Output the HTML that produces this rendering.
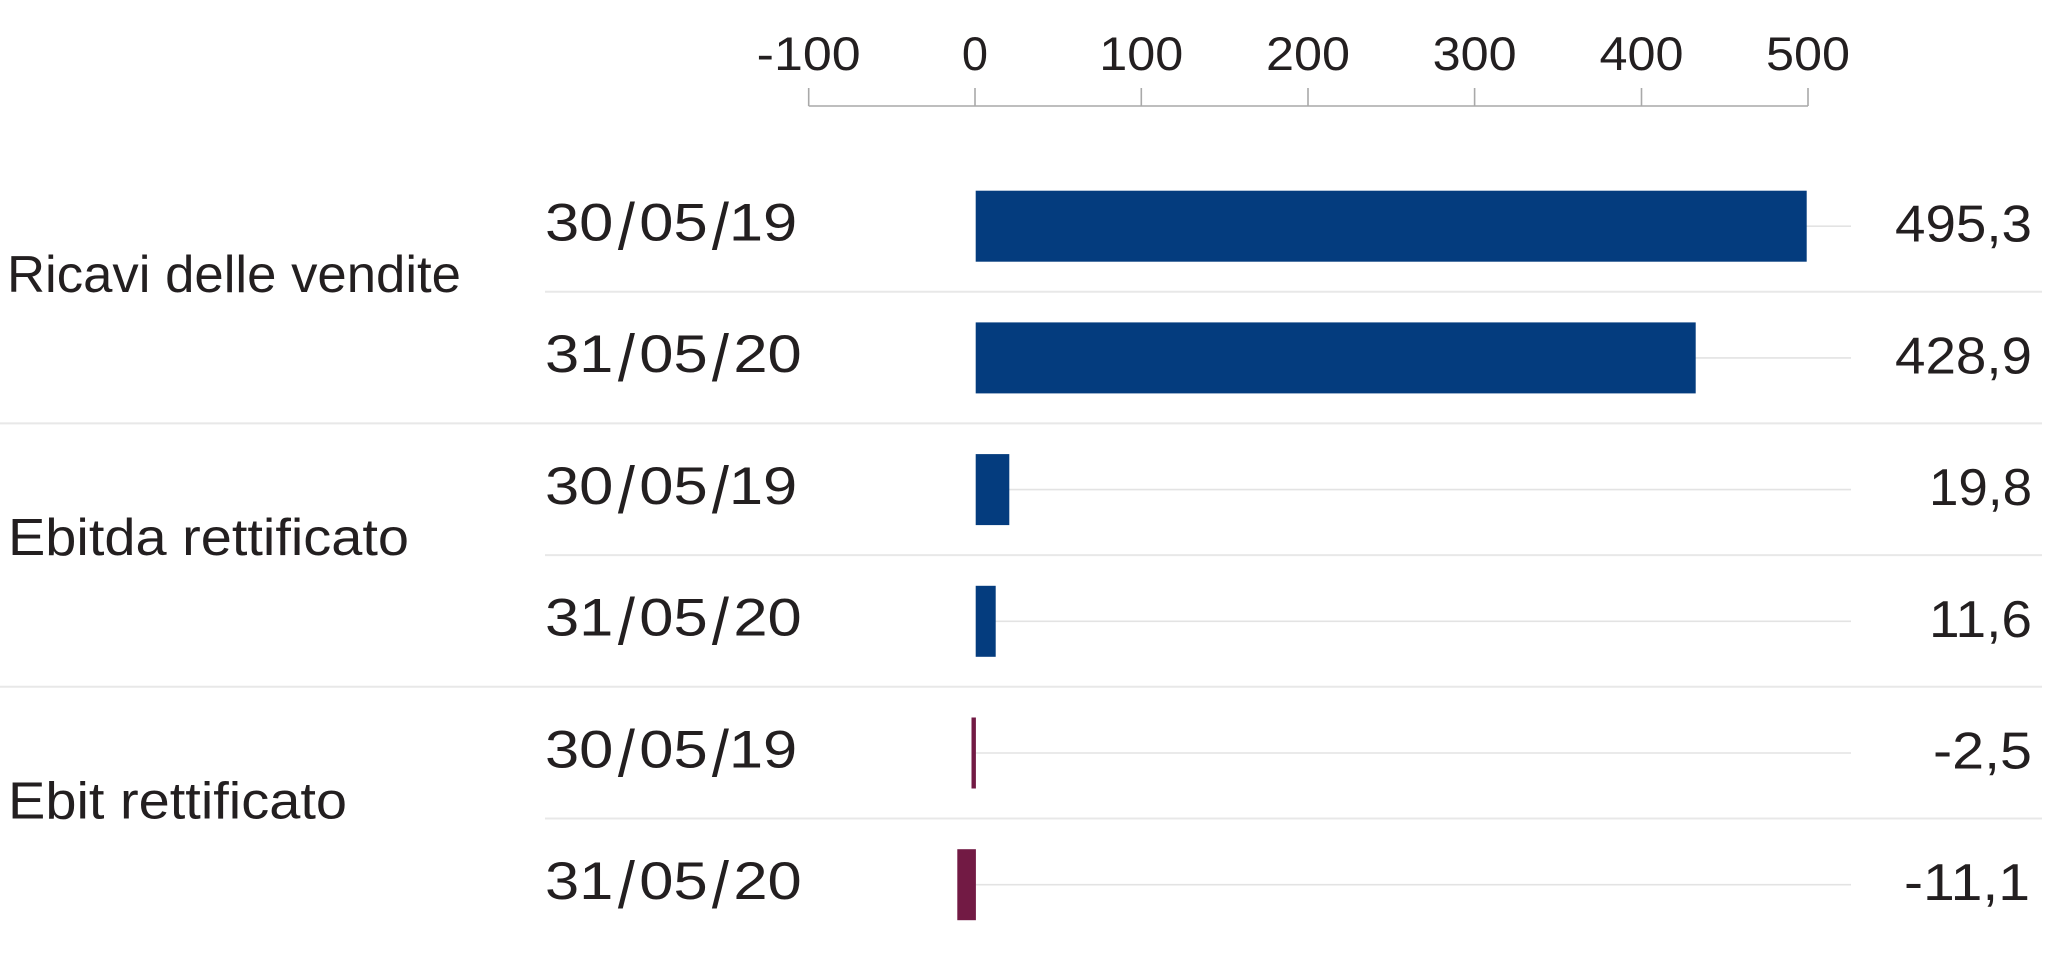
<!DOCTYPE html>
<html>
<head>
<meta charset="utf-8">
<style>
  html, body { margin:0; padding:0; background:#ffffff; }
  body { width:2048px; height:961px; overflow:hidden; }
  svg { display:block; }
  text { font-family: "Liberation Sans", Arial, sans-serif; fill:#231f20; }
</style>
</head>
<body>
<svg width="2048" height="961" viewBox="0 0 2048 961" xmlns="http://www.w3.org/2000/svg">
  <!-- axis -->
  <g stroke="#a9a9a9" stroke-width="1.6" fill="none">
    <line x1="808.7" y1="106" x2="1808" y2="106"/>
    <line x1="808.7" y1="88" x2="808.7" y2="106"/>
    <line x1="975" y1="88" x2="975" y2="106"/>
    <line x1="1141.3" y1="88" x2="1141.3" y2="106"/>
    <line x1="1308" y1="88" x2="1308" y2="106"/>
    <line x1="1474.6" y1="88" x2="1474.6" y2="106"/>
    <line x1="1641.5" y1="88" x2="1641.5" y2="106"/>
    <line x1="1808" y1="88" x2="1808" y2="106"/>
  </g>
  <g font-size="47" text-anchor="middle">
    <text x="808.7" y="70" textLength="104" lengthAdjust="spacingAndGlyphs">-100</text>
    <text x="975" y="70">0</text>
    <text x="1141.3" y="70" textLength="84" lengthAdjust="spacingAndGlyphs">100</text>
    <text x="1308" y="70" textLength="84" lengthAdjust="spacingAndGlyphs">200</text>
    <text x="1474.6" y="70" textLength="84" lengthAdjust="spacingAndGlyphs">300</text>
    <text x="1641.5" y="70" textLength="84" lengthAdjust="spacingAndGlyphs">400</text>
    <text x="1808" y="70" textLength="84" lengthAdjust="spacingAndGlyphs">500</text>
  </g>

  <!-- separators -->
  <g stroke="#e8e8e8" stroke-width="2">
    <line x1="545" y1="291.7" x2="2042" y2="291.7"/>
    <line x1="0" y1="423.4" x2="2042" y2="423.4"/>
    <line x1="545" y1="555.1" x2="2042" y2="555.1"/>
    <line x1="0" y1="686.8" x2="2042" y2="686.8"/>
    <line x1="545" y1="818.5" x2="2042" y2="818.5"/>
  </g>

  <!-- gridlines -->
  <g stroke="#e3e3e3" stroke-width="1.6">
    <line x1="976" y1="226.2" x2="1851" y2="226.2"/>
    <line x1="976" y1="357.9" x2="1851" y2="357.9"/>
    <line x1="976" y1="489.6" x2="1851" y2="489.6"/>
    <line x1="976" y1="621.3" x2="1851" y2="621.3"/>
    <line x1="976" y1="753.0" x2="1851" y2="753.0"/>
    <line x1="976" y1="884.7" x2="1851" y2="884.7"/>
  </g>

  <!-- bars -->
  <g>
    <rect x="975.7" y="190.7" width="831" height="71" fill="#043c7e"/>
    <rect x="975.7" y="322.4" width="720" height="71" fill="#043c7e"/>
    <rect x="975.7" y="454.1" width="33.6" height="71" fill="#043c7e"/>
    <rect x="975.7" y="585.8" width="20" height="71" fill="#043c7e"/>
    <rect x="971.5" y="717.5" width="4.4" height="71" fill="#721a44"/>
    <rect x="957.3" y="849.2" width="18.6" height="71" fill="#721a44"/>
  </g>

  <!-- category labels -->
  <g font-size="51.5">
    <text x="7" y="292" textLength="454" lengthAdjust="spacingAndGlyphs">Ricavi delle vendite</text>
    <text x="8" y="555" textLength="401" lengthAdjust="spacingAndGlyphs">Ebitda rettificato</text>
    <text x="8" y="818.5" textLength="339" lengthAdjust="spacingAndGlyphs">Ebit rettificato</text>
  </g>

  <!-- date labels -->
  <g font-size="53">
    <g transform="translate(545,240.5) scale(1.16,1)">
      <text x="0" y="0">30</text><text transform="translate(62.8,9) scale(1,1.25)">/</text><text x="81.3" y="0">05</text><text transform="translate(143.9,9) scale(1,1.25)">/</text><text x="158.5" y="0">19</text>
    </g>
    <g transform="translate(545,372.2) scale(1.16,1)">
      <text x="0" y="0">31</text><text transform="translate(62.8,9) scale(1,1.25)">/</text><text x="81.3" y="0">05</text><text transform="translate(143.9,9) scale(1,1.25)">/</text><text x="162.4" y="0">20</text>
    </g>
    <g transform="translate(545,503.9) scale(1.16,1)">
      <text x="0" y="0">30</text><text transform="translate(62.8,9) scale(1,1.25)">/</text><text x="81.3" y="0">05</text><text transform="translate(143.9,9) scale(1,1.25)">/</text><text x="158.5" y="0">19</text>
    </g>
    <g transform="translate(545,635.6) scale(1.16,1)">
      <text x="0" y="0">31</text><text transform="translate(62.8,9) scale(1,1.25)">/</text><text x="81.3" y="0">05</text><text transform="translate(143.9,9) scale(1,1.25)">/</text><text x="162.4" y="0">20</text>
    </g>
    <g transform="translate(545,767.3) scale(1.16,1)">
      <text x="0" y="0">30</text><text transform="translate(62.8,9) scale(1,1.25)">/</text><text x="81.3" y="0">05</text><text transform="translate(143.9,9) scale(1,1.25)">/</text><text x="158.5" y="0">19</text>
    </g>
    <g transform="translate(545,899.0) scale(1.16,1)">
      <text x="0" y="0">31</text><text transform="translate(62.8,9) scale(1,1.25)">/</text><text x="81.3" y="0">05</text><text transform="translate(143.9,9) scale(1,1.25)">/</text><text x="162.4" y="0">20</text>
    </g>
  </g>

  <!-- value labels -->
  <g font-size="51.5" text-anchor="end">
    <text x="2032" y="241.7" textLength="137" lengthAdjust="spacingAndGlyphs">495,3</text>
    <text x="2032" y="373.4" textLength="137" lengthAdjust="spacingAndGlyphs">428,9</text>
    <text x="2032" y="505.1" textLength="103" lengthAdjust="spacingAndGlyphs">19,8</text>
    <text x="2032" y="636.8" textLength="103" lengthAdjust="spacingAndGlyphs">11,6</text>
    <text x="2032" y="768.5" textLength="99" lengthAdjust="spacingAndGlyphs">-2,5</text>
    <text x="2030" y="900.2" textLength="126" lengthAdjust="spacingAndGlyphs">-11,1</text>
  </g>
</svg>
</body>
</html>
